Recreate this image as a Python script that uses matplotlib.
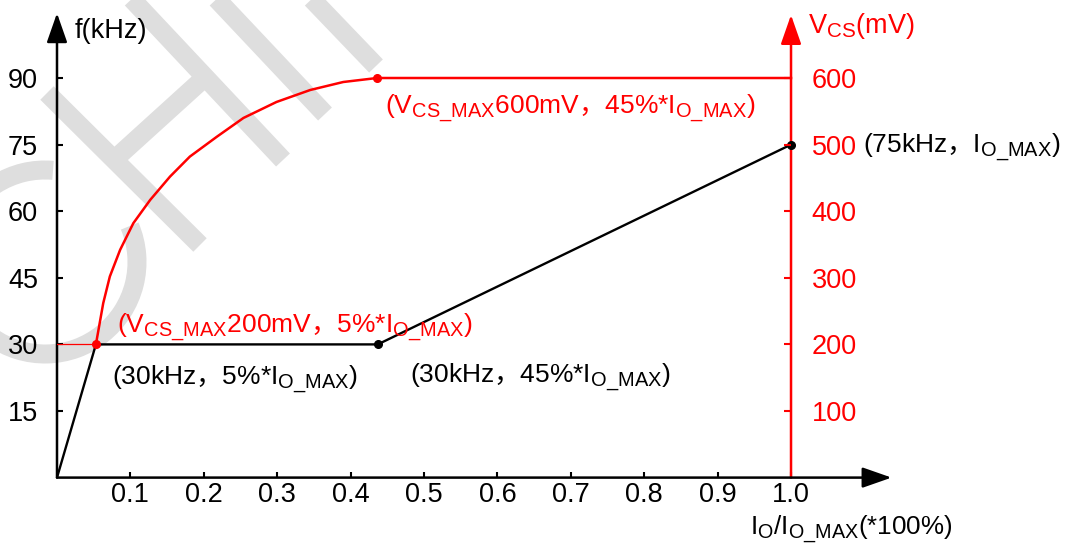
import matplotlib
matplotlib.use("Agg")
import matplotlib.pyplot as plt
import matplotlib._mathtext as mathtext_mod
from matplotlib.patches import Arc
from matplotlib.lines import Line2D
from matplotlib.transforms import Affine2D

plt.rcParams['font.family'] = ['Liberation Sans', 'Noto Sans CJK SC']
plt.rcParams['mathtext.fontset'] = 'custom'
plt.rcParams['mathtext.rm'] = 'Liberation Sans'
plt.rcParams['mathtext.cal'] = 'Noto Sans CJK SC'
# subscripts in the reference are a bit larger than mathtext's default
mathtext_mod.SHRINK_FACTOR = 0.76

# data
f_x = [0, 0.053, 0.437, 1.0]
f_khz = [0, 30, 30, 75]
vcs_x = [0.053, 0.063, 0.072, 0.086, 0.104, 0.127, 0.154, 0.181, 0.218, 0.254,
         0.299, 0.345, 0.390, 0.436, 1.0]
vcs_mv = [200, 262, 302, 342, 382, 417, 452, 482, 512, 540,
          564, 582, 594, 600, 600]
guide_x = [0, 0.053]
guide_mv = [200, 200]
x_ticks = [0.1, 0.2, 0.3, 0.4, 0.5, 0.6, 0.7, 0.8, 0.9, 1.0]
x_ticklabels = ['0.1', '0.2', '0.3', '0.4', '0.5', '0.6', '0.7', '0.8', '0.9', '1.0']
f_ticks = [15, 30, 45, 60, 75, 90]
vcs_ticks = [100, 200, 300, 400, 500, 600]

red1 = r'($\mathrm{V_{CS\_MAX}}$200mV$\mathcal{，}$5%*$\mathrm{I_{O\_MAX}}$)'
red2 = r'($\mathrm{V_{CS\_MAX}}$600mV$\mathcal{，}$45%*$\mathrm{I_{O\_MAX}}$)'
blk1 = r'(30kHz$\mathcal{，}$5%*$\mathrm{I_{O\_MAX}}$)'
blk2 = r'(30kHz$\mathcal{，}$45%*$\mathrm{I_{O\_MAX}}$)'
blk3 = r'(75kHz$\mathcal{，}$$\mathrm{I_{O\_MAX}}$)'

fig = plt.figure(figsize=(10.65, 5.45), dpi=100)
ax = fig.add_axes([0.05352, 0.12367, 0.7926, 0.8554])
ax.set_xlim(0, 1.15)
ax.set_ylim(0, 105)
ax.patch.set_visible(False)
for s in ax.spines.values():
    s.set_visible(False)

# watermark (image pixel coords)
px = Affine2D().scale(0.01, -0.01).translate(0, 5.45) + fig.dpi_scale_trans
wm_color = '#dedede'
wm_lw = 19 * 0.72
wm_bars = [((47, 93), (200, 245)), ((128, -5), (283, 160)), ((116, 158), (202, 80)),
           ((210, -8), (325, 114)), ((305, -8), (376, 66))]
for (x0, y0), (x1, y1) in wm_bars:
    ax.add_line(Line2D([x0, x1], [y0, y1], transform=px, color=wm_color, lw=wm_lw,
                       solid_capstyle='butt', zorder=0.5, clip_on=False))
ax.add_patch(Arc((45, 262), 184, 184, theta1=337, theta2=275, transform=px,
                 color=wm_color, lw=wm_lw, zorder=0.5, clip_on=False))

# axes with arrows
def axis_arrow(x0, y0, x1, y1, color):
    ax.annotate('', xy=(x1, y1), xytext=(x0, y0), annotation_clip=False,
                arrowprops=dict(arrowstyle='-|>,head_length=18,head_width=6.3',
                                mutation_scale=1, lw=1.8, color=color,
                                shrinkA=0, shrinkB=0), zorder=2)

axis_arrow(1.0, 0, 1.0, 104.2, 'red')
axis_arrow(0, 0, 0, 104.6, 'black')
axis_arrow(0, 0, 1.137, 0, 'black')

ax.plot(f_x, f_khz, color='black', lw=1.7, zorder=3)
ax.plot(f_x[2:], f_khz[2:], 'o', color='black', ms=5.5, zorder=4)

ax.set_xticks(x_ticks, x_ticklabels)
ax.set_yticks(f_ticks)
ax.tick_params(axis='x', direction='in', length=4.3, width=1.5, pad=3.5, labelsize=19.5)
ax.tick_params(axis='y', direction='in', length=4.3, width=1.5, pad=13.5, labelsize=19.5)

ax2 = ax.twinx()
ax2.set_ylim(0, 700)
for s in ax2.spines.values():
    s.set_visible(False)
ax2.spines['right'].set_position(('data', 1.0))
ax2.set_yticks(vcs_ticks)
ax2.tick_params(axis='y', direction='in', length=5, width=1.5, pad=15, labelsize=19.5,
                colors='red')

ax2.plot(vcs_x, vcs_mv, color='red', lw=1.8, zorder=3)
ax2.plot(guide_x, guide_mv, color='red', lw=0.9, zorder=3)
ax2.plot([vcs_x[0], vcs_x[-2]], [vcs_mv[0], vcs_mv[-2]], 'o', color='red', ms=5.5, zorder=4)

# labels
fl = 19.5
fs = 19
ax.text(0.0245, 99.0, 'f(kHz)', fontsize=fl, ha='left', va='baseline')
ax.text(1.023, 100.1, r'$\mathrm{V_{CS}}$(mV)', fontsize=fl, color='red', ha='left', va='baseline')
ax.text(0.944, -12.9, r'$\mathrm{I_O/I_{O\_MAX}}$(*100%)', fontsize=18.7, ha='left', va='baseline')

ax.text(0.0817, 32.6, red1, fontsize=fs, color='red', ha='left', va='baseline')
ax.text(0.447, 82.1, red2, fontsize=fs, color='red', ha='left', va='baseline')
ax.text(0.075, 20.9, blk1, fontsize=fs, ha='left', va='baseline')
ax.text(0.481, 21.3, blk2, fontsize=fs, ha='left', va='baseline')
ax.text(1.098, 73.1, blk3, fontsize=fs, ha='left', va='baseline')

fig.savefig('out.png', dpi=100)
